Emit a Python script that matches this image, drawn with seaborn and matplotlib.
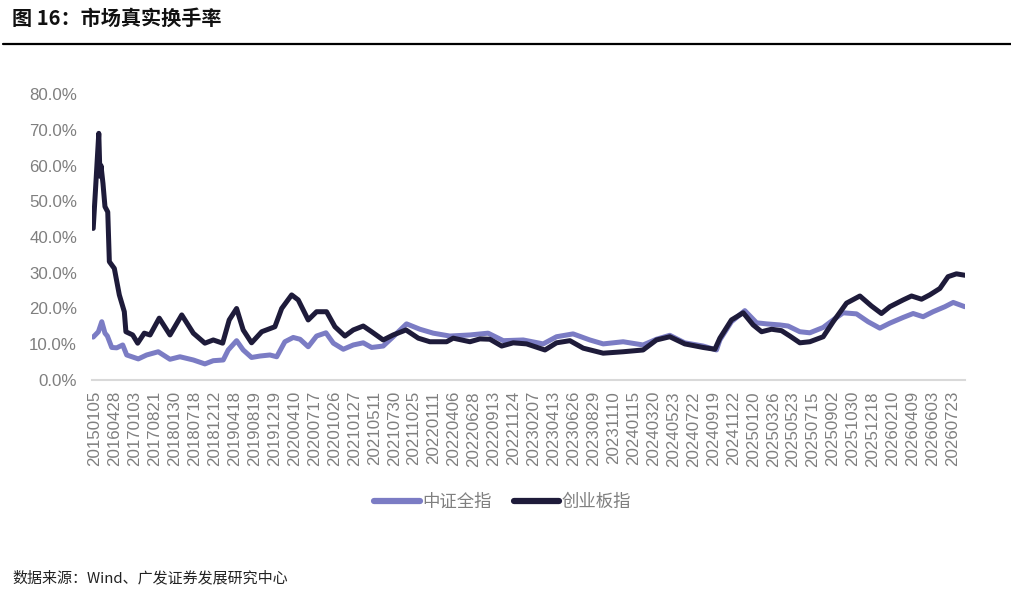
import pandas as pd
import seaborn as sns
import matplotlib.pyplot as plt
from matplotlib.lines import Line2D
from matplotlib.ticker import FuncFormatter

# tick labels of the category axis (one label per tick)
date_labels = ['20150105', '20160428', '20170103', '20170821', '20180130', '20180718',
               '20181212', '20190418', '20190819', '20191219', '20200410', '20200717',
               '20201026', '20210127', '20210511', '20210730', '20211025', '20220111',
               '20220406', '20220628', '20220913', '20221124', '20230207', '20230413',
               '20230626', '20230829', '20231110', '20240115', '20240320', '20240523',
               '20240722', '20240919', '20241122', '20250120', '20250326', '20250523',
               '20250715', '20250902', '20251030', '20251218', '20260210', '20260409',
               '20260603', '20260723']

# 中证全指 : position (in tick units) and turnover (%)
pos_csi = [-0.09, 0.17, 0.34, 0.50, 0.62, 0.84, 1.09, 1.39, 1.59, 2.17, 2.59, 3.17, 3.76,
           4.26, 4.93, 5.51, 5.93, 6.43, 6.68, 7.10, 7.43, 7.85, 8.27, 8.77, 9.11, 9.52,
           9.94, 10.28, 10.69, 11.11, 11.58, 11.95, 12.45, 12.95, 13.45, 13.87, 14.45,
           14.95, 15.62, 16.29, 16.96, 17.79, 18.80, 19.71, 20.47, 21.47, 22.47, 23.14,
           23.97, 24.81, 25.48, 26.48, 27.48, 28.15, 28.82, 29.57, 30.49, 31.16, 31.33,
           31.91, 32.58, 33.17, 33.67, 34.34, 34.75, 35.34, 35.84, 36.51, 37.01, 37.51,
           38.18, 38.76, 39.35, 39.85, 40.52, 41.02, 41.52, 42.02, 42.61, 43.03, 43.61]
val_csi = [12.0, 13.5, 16.3, 13.1, 12.3, 9.1, 9.0, 9.8, 7.0, 5.9, 7.0, 7.9, 5.8,
           6.5, 5.6, 4.5, 5.4, 5.6, 8.4, 11.0, 8.4, 6.3, 6.7, 7.0, 6.5, 10.7,
           11.9, 11.4, 9.3, 12.3, 13.2, 10.3, 8.6, 9.8, 10.4, 9.1, 9.5,
           12.1, 15.7, 14.2, 13.1, 12.3, 12.6, 13.1, 11.0, 11.2, 10.1, 12.1,
           12.9, 11.2, 10.1, 10.7, 9.8, 11.4, 12.5, 10.4, 9.5, 8.4, 11.2,
           16.3, 19.4, 16.0, 15.7, 15.4, 15.1, 13.5, 13.2, 14.7, 16.8, 18.8,
           18.5, 16.3, 14.5, 15.9, 17.5, 18.6, 17.7, 19.1, 20.5, 21.7, 20.5]

# 创业板指
pos_gem = [-0.09, 0.02, 0.19, 0.25, 0.30, 0.40, 0.50, 0.64, 0.72, 0.97, 1.22, 1.47, 1.55,
           1.89, 2.14, 2.47, 2.76, 3.22, 3.76, 4.35, 4.93, 5.51, 5.93, 6.40, 6.73, 7.10,
           7.43, 7.85, 8.36, 8.69, 9.02, 9.36, 9.86, 10.19, 10.69, 11.11, 11.61, 12.03,
           12.53, 12.95, 13.45, 13.87, 14.45, 14.95, 15.59, 16.21, 16.79, 17.63, 17.96,
           18.80, 19.30, 19.80, 20.39, 20.97, 21.64, 22.56, 23.14, 23.81, 24.48, 25.48,
           26.48, 27.48, 28.15, 28.82, 29.57, 30.49, 31.08, 31.33, 31.91, 32.50, 33.00,
           33.42, 33.92, 34.42, 34.84, 35.34, 35.84, 36.51, 37.01, 37.68, 38.35, 38.93,
           39.43, 39.85, 40.52, 40.94, 41.44, 41.85, 42.36, 42.77, 43.19, 43.61]
val_gem = [42.4, 52.7, 69.0, 57.0, 60.0, 55.0, 48.5, 47.0, 33.1, 31.2, 23.8, 19.1, 13.5,
           12.6, 10.3, 13.1, 12.6, 17.3, 12.6, 18.2, 13.1, 10.3, 11.2, 10.3, 16.8, 20.0,
           14.0, 10.4, 13.5, 14.2, 14.9, 20.0, 23.8, 22.4, 16.8, 19.1, 19.1, 14.9,
           12.3, 14.0, 15.1, 13.5, 11.2, 12.6, 14.0, 11.7, 10.7, 10.7, 11.7,
           10.7, 11.5, 11.4, 9.5, 10.4, 10.1, 8.4, 10.4, 11.0, 8.9, 7.5,
           7.9, 8.4, 11.2, 12.1, 10.1, 9.1, 8.6, 11.7, 16.8, 18.8, 15.4,
           13.5, 14.2, 13.8, 12.3, 10.4, 10.7, 12.1, 16.3, 21.5, 23.5, 20.7,
           18.6, 20.5, 22.4, 23.5, 22.6, 23.8, 25.6, 28.9, 29.7, 29.3]

series_names = ['中证全指', '创业板指']
colors = {'中证全指': '#7b7cc4', '创业板指': '#1e1b3a'}

df = pd.concat([
    pd.DataFrame({'pos': pos_csi, 'value': val_csi, 'series': series_names[0]}),
    pd.DataFrame({'pos': pos_gem, 'value': val_gem, 'series': series_names[1]}),
], ignore_index=True)

sns.set_theme(style='white')
plt.rcParams['font.family'] = ['Liberation Sans', 'Noto Sans CJK SC', 'DejaVu Sans']

fig = plt.figure(figsize=(10.11, 5.99), dpi=100)
W, H = 1011, 599
ax = fig.add_axes([91.7 / W, 1 - 380 / H, (965 - 91.7) / W, (380 - 94) / H])

sns.lineplot(data=df, x='pos', y='value', hue='series', hue_order=series_names,
             palette=colors, estimator=None, linewidth=3.6, legend=False, ax=ax,
             solid_capstyle='round', solid_joinstyle='round')

ax.set_xlim(-0.165, 43.62)
ax.set_ylim(0, 80)
ax.set_xticks(range(len(date_labels)))
ax.set_xticklabels(date_labels, rotation=90)
ax.set_yticks(range(0, 81, 10))
ax.yaxis.set_major_formatter(FuncFormatter(lambda v, p: f'{v:.1f}%'))
ax.tick_params(axis='x', length=0, pad=8, labelsize=12.2, labelcolor='#7f7f7f')
ax.tick_params(axis='y', length=0, pad=10.5, labelsize=12.2, labelcolor='#7f7f7f')
ax.set_xlabel('')
ax.set_ylabel('')
for s in ['top', 'right', 'left']:
    ax.spines[s].set_visible(False)
ax.spines['bottom'].set_color('#d9d9d9')
ax.spines['bottom'].set_linewidth(1.5)
ax.grid(False)

# legend under the chart
handles = [Line2D([], [], color=colors[n], lw=4.5, solid_capstyle='round') for n in series_names]
fig.legend(handles, series_names, loc='center', bbox_to_anchor=(503 / W, 1 - 502 / H),
           ncol=2, frameon=False, fontsize=12.5, labelcolor='#7f7f7f',
           handlelength=2.6, handletextpad=0.15, columnspacing=1.3)

# title and rule
fig.text(12 / W, 1 - 18 / H, '图 16：市场真实换手率', fontsize=14.5, fontweight='bold',
         color='#111111', va='center', ha='left', family=['Noto Sans CJK SC', 'DejaVu Sans'])
fig.add_artist(Line2D([3 / W, 1.0], [1 - 44 / H, 1 - 44 / H], color='black', lw=1.6,
                      transform=fig.transFigure))

# source note
fig.text(12 / W, 1 - 578 / H, '数据来源：Wind、广发证券发展研究中心', fontsize=10.8,
         color='#222222', va='center', ha='left', family=['Noto Sans CJK SC', 'DejaVu Sans'])

fig.savefig('out.png', dpi=100, facecolor='white')
